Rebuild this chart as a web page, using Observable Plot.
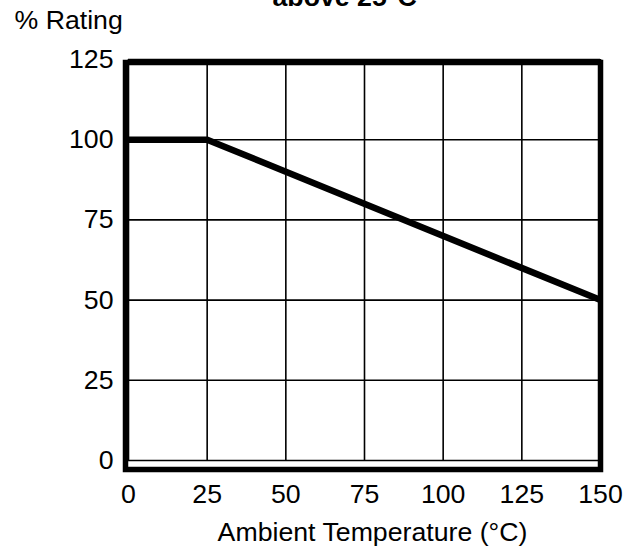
<!DOCTYPE html>
<html>
<head>
<meta charset="utf-8">
<script src="https://cdn.jsdelivr.net/npm/d3@7"></script>
<script src="https://cdn.jsdelivr.net/npm/@observablehq/plot@0.6"></script>
<style>
  html, body { margin: 0; padding: 0; background: #fff; }
  #chart svg { display: block; }
</style>
</head>
<body>
<div id="chart"></div>
<script>
// Data
const temps = [0, 25, 150];
const ratings = [100, 100, 50];
const xTicks = [0, 25, 50, 75, 100, 125, 150];
const yTicks = [0, 25, 50, 75, 100, 125];
const titleText = "above 25°C";
const yLabel = "% Rating";
const xLabel = "Ambient Temperature (°C)";

const data = temps.map((t, i) => ({t, r: ratings[i]}));
const font = "Liberation Sans, Arial, Helvetica, sans-serif";
const fs = 26.7;

const chart = Plot.plot({
  width: 637,
  height: 547,
  marginLeft: 128,
  marginRight: 37,
  marginTop: 59,
  marginBottom: 87,
  style: {fontFamily: font, fontSize: fs + "px", color: "#000", background: "#fff"},
  x: {domain: [0, 150], label: null},
  y: {domain: [0, 125], label: null},
  marks: [
    Plot.ruleX(xTicks, {stroke: "#000", strokeWidth: 1.6}),
    Plot.ruleY(yTicks, {stroke: "#000", strokeWidth: 1.6}),
    Plot.line(data, {x: "t", y: "r", stroke: "#000", strokeWidth: 6.5, strokeLinejoin: "miter", strokeLinecap: "butt"}),
    Plot.frame({stroke: "#000", strokeWidth: 5.5, insetLeft: -3, insetRight: 0, insetTop: 3, insetBottom: -9}),
    Plot.axisX(xTicks, {tickSize: 0, tickPadding: 24, fontSize: fs, label: null, fill: "#000"}),
    Plot.axisY(yTicks, {tickSize: 0, tickPadding: 15, fontSize: fs, label: null, fill: "#000"}),
    Plot.text([titleText], {frameAnchor: "top-left", dx: 144, dy: -54, textAnchor: "start", lineAnchor: "bottom", fontWeight: "bold", fontSize: fs, fill: "#000"}),
    Plot.text([yLabel], {frameAnchor: "top-left", dx: -114, dy: -31, textAnchor: "start", lineAnchor: "bottom", fontSize: fs, fill: "#000"}),
    Plot.text([xLabel], {frameAnchor: "bottom", dx: 8, dy: 80, textAnchor: "middle", lineAnchor: "bottom", fontSize: fs, fill: "#000"})
  ]
});
document.getElementById("chart").appendChild(chart);
</script>
</body>
</html>
